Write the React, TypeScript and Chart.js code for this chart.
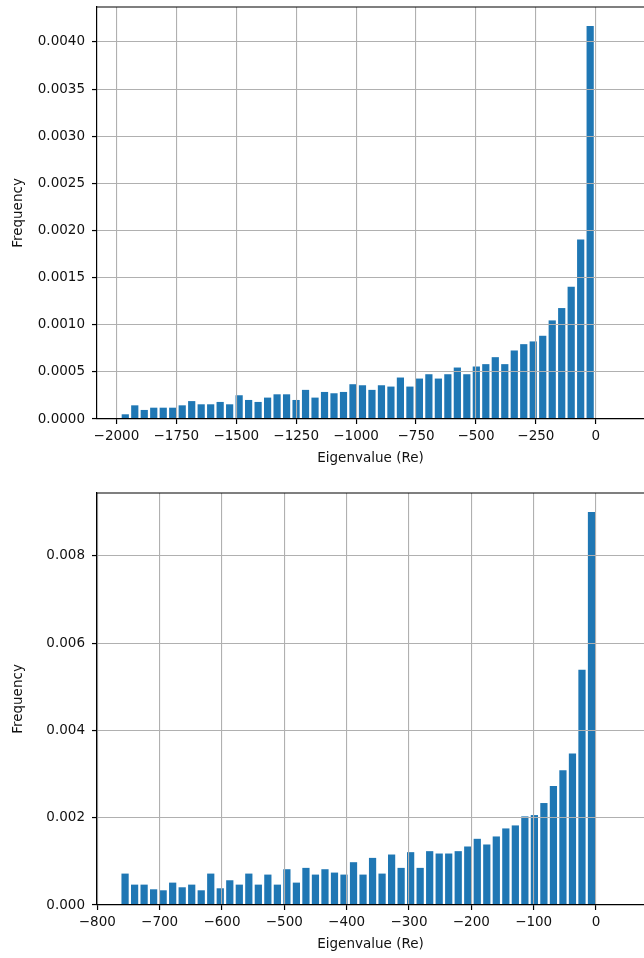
import React, { useEffect, useRef } from "react";
import { Chart, registerables } from "chart.js";

Chart.register(...registerables);

// ---- Top histogram (Re eigenvalues, wide range) ----
const topBinStart = -1982.8;
const topBinWidth = 39.58;
const topValues = [
  0.00005, 0.000145, 0.000096, 0.00012, 0.00012, 0.00012, 0.000145, 0.00019, 0.000156, 0.000156,
  0.000181, 0.000156, 0.000252, 0.000202, 0.000181, 0.000227, 0.000262, 0.000262, 0.000202, 0.000309,
  0.000227, 0.000287, 0.000273, 0.000287, 0.000369, 0.000358, 0.000309, 0.000358, 0.000344, 0.00044,
  0.000344, 0.000429, 0.000475, 0.000429, 0.000475, 0.000546, 0.000475, 0.000557, 0.000582, 0.000656,
  0.000582, 0.000727, 0.000794, 0.000823, 0.000883, 0.001046, 0.001177, 0.001404, 0.001904, 0.00417,
];
const topXTicks = [-2000, -1750, -1500, -1250, -1000, -750, -500, -250, 0];
const topYTicks = [0, 0.0005, 0.001, 0.0015, 0.002, 0.0025, 0.003, 0.0035, 0.004];

// ---- Bottom histogram (Re eigenvalues, narrow range) ----
const botBinStart = -763.1;
const botBinWidth = 15.27;
const botValues = [
  0.00072, 0.000467, 0.000467, 0.00036, 0.000337, 0.000513, 0.000406, 0.000467, 0.000337, 0.00072,
  0.000383, 0.000567, 0.000467, 0.00072, 0.000467, 0.000697, 0.000467, 0.00082, 0.000513, 0.000851,
  0.000697, 0.00082, 0.000743, 0.000697, 0.000981, 0.000697, 0.00108, 0.00072, 0.001157, 0.000851,
  0.001211, 0.000851, 0.001234, 0.00118, 0.00118, 0.001234, 0.001341, 0.001517, 0.001387, 0.001571,
  0.001755, 0.001824, 0.002031, 0.002061, 0.002337, 0.002728, 0.003088, 0.003471, 0.00539, 0.009007,
];
const botXTicks = [-800, -700, -600, -500, -400, -300, -200, -100, 0];
const botYTicks = [0, 0.002, 0.004, 0.006, 0.008];

const xLabel = "Eigenvalue (Re)";
const yLabel = "Frequency";

const FONT = "'DejaVu Sans', sans-serif";
const TEXT = "#111";
const BAR = "#1f77b4";
const GRID = "#b0b0b0";

const fmtX = (v: number) => (v < 0 ? "\u2212" + Math.abs(v) : String(v));

const topSpine = {
  id: "topSpine",
  afterDraw(chart: any) {
    const { ctx, chartArea } = chart;
    ctx.save();
    ctx.strokeStyle = "#000";
    ctx.lineWidth = 1.2;
    ctx.beginPath();
    ctx.moveTo(chartArea.left, chartArea.top);
    ctx.lineTo(chartArea.right + 2, chartArea.top);
    ctx.stroke();
    ctx.restore();
  },
};

function makeConfig(
  binStart: number,
  binWidth: number,
  values: number[],
  xTicks: number[],
  yTicks: number[],
  xMin: number,
  xMax: number,
  yMax: number,
  yDecimals: number,
  padTop: number,
  padBottom: number
) {
  const data = values.map((v, i) => ({ x: binStart + binWidth * (i + 0.5), y: v }));
  return {
    type: "bar" as const,
    data: {
      datasets: [
        {
          data,
          backgroundColor: BAR,
          borderWidth: 0,
          barPercentage: 0.76,
          categoryPercentage: 1,
        },
      ],
    },
    options: {
      animation: false,
      responsive: false,
      layout: { padding: { top: padTop, bottom: padBottom, left: 0, right: 0 } },
      plugins: { legend: { display: false }, tooltip: { enabled: false } },
      scales: {
        x: {
          type: "linear",
          min: xMin,
          max: xMax,
          offset: false,
          afterBuildTicks: (s: any) => {
            s.ticks = xTicks.map((v) => ({ value: v }));
          },
          afterFit: (s: any) => {
            s.height = 48;
            s.paddingLeft = 0;
            s.paddingRight = 0;
          },
          grid: {
            offset: false,
            color: GRID,
            lineWidth: 1.1,
            z: 1,
            drawTicks: true,
            tickLength: 5,
            tickColor: "#000",
            tickWidth: 1.2,
          },
          border: { display: true, color: "#000", width: 1.2, z: 2 },
          ticks: {
            callback: (v: any) => fmtX(Number(v)),
            font: { family: FONT, size: 13.5 },
            color: TEXT,
            padding: 4,
            maxRotation: 0,
            autoSkip: false,
          },
          title: {
            display: true,
            text: xLabel,
            font: { family: FONT, size: 13.5 },
            color: TEXT,
            padding: { top: 0, bottom: 0 },
          },
        },
        y: {
          type: "linear",
          min: 0,
          max: yMax,
          afterBuildTicks: (s: any) => {
            s.ticks = yTicks.map((v) => ({ value: v }));
          },
          afterFit: (s: any) => {
            s.width = 97;
            s.paddingTop = 0;
            s.paddingBottom = 0;
          },
          grid: {
            color: GRID,
            lineWidth: 1.1,
            z: 1,
            drawTicks: true,
            tickLength: 5,
            tickColor: "#000",
            tickWidth: 1.2,
          },
          border: { display: true, color: "#000", width: 1.2, z: 2 },
          ticks: {
            callback: (v: any) => Number(v).toFixed(yDecimals),
            font: { family: FONT, size: 13.5 },
            color: TEXT,
            padding: 7,
            autoSkip: false,
          },
          title: {
            display: true,
            text: yLabel,
            font: { family: FONT, size: 13.5 },
            color: TEXT,
            padding: { top: 10, bottom: 0 },
          },
        },
      },
    },
    plugins: [topSpine],
  };
}

function Hist(props: { top: number; height: number; cfg: any }) {
  const ref = useRef<HTMLCanvasElement | null>(null);
  useEffect(() => {
    if (!ref.current) return;
    const chart = new Chart(ref.current, props.cfg);
    return () => chart.destroy();
  }, []);
  return (
    <canvas
      ref={ref}
      width={644}
      height={props.height}
      style={{ position: "absolute", left: 0, top: props.top, width: 644, height: props.height, display: "block" }}
    />
  );
}

export default function App() {
  const topCfg = makeConfig(topBinStart, topBinWidth, topValues, topXTicks, topYTicks, -2081, 201, 0.004371, 4, 7, 13);
  const botCfg = makeConfig(botBinStart, botBinWidth, botValues, botXTicks, botYTicks, -800.5, 77, 0.009443, 3, 13, 5);
  return (
    <div style={{ position: "absolute", left: 0, top: 0, width: 644, height: 958, overflow: "hidden", background: "#fff" }}>
      <Hist top={0} height={480} cfg={topCfg} />
      <Hist top={480} height={478} cfg={botCfg} />
    </div>
  );
}
